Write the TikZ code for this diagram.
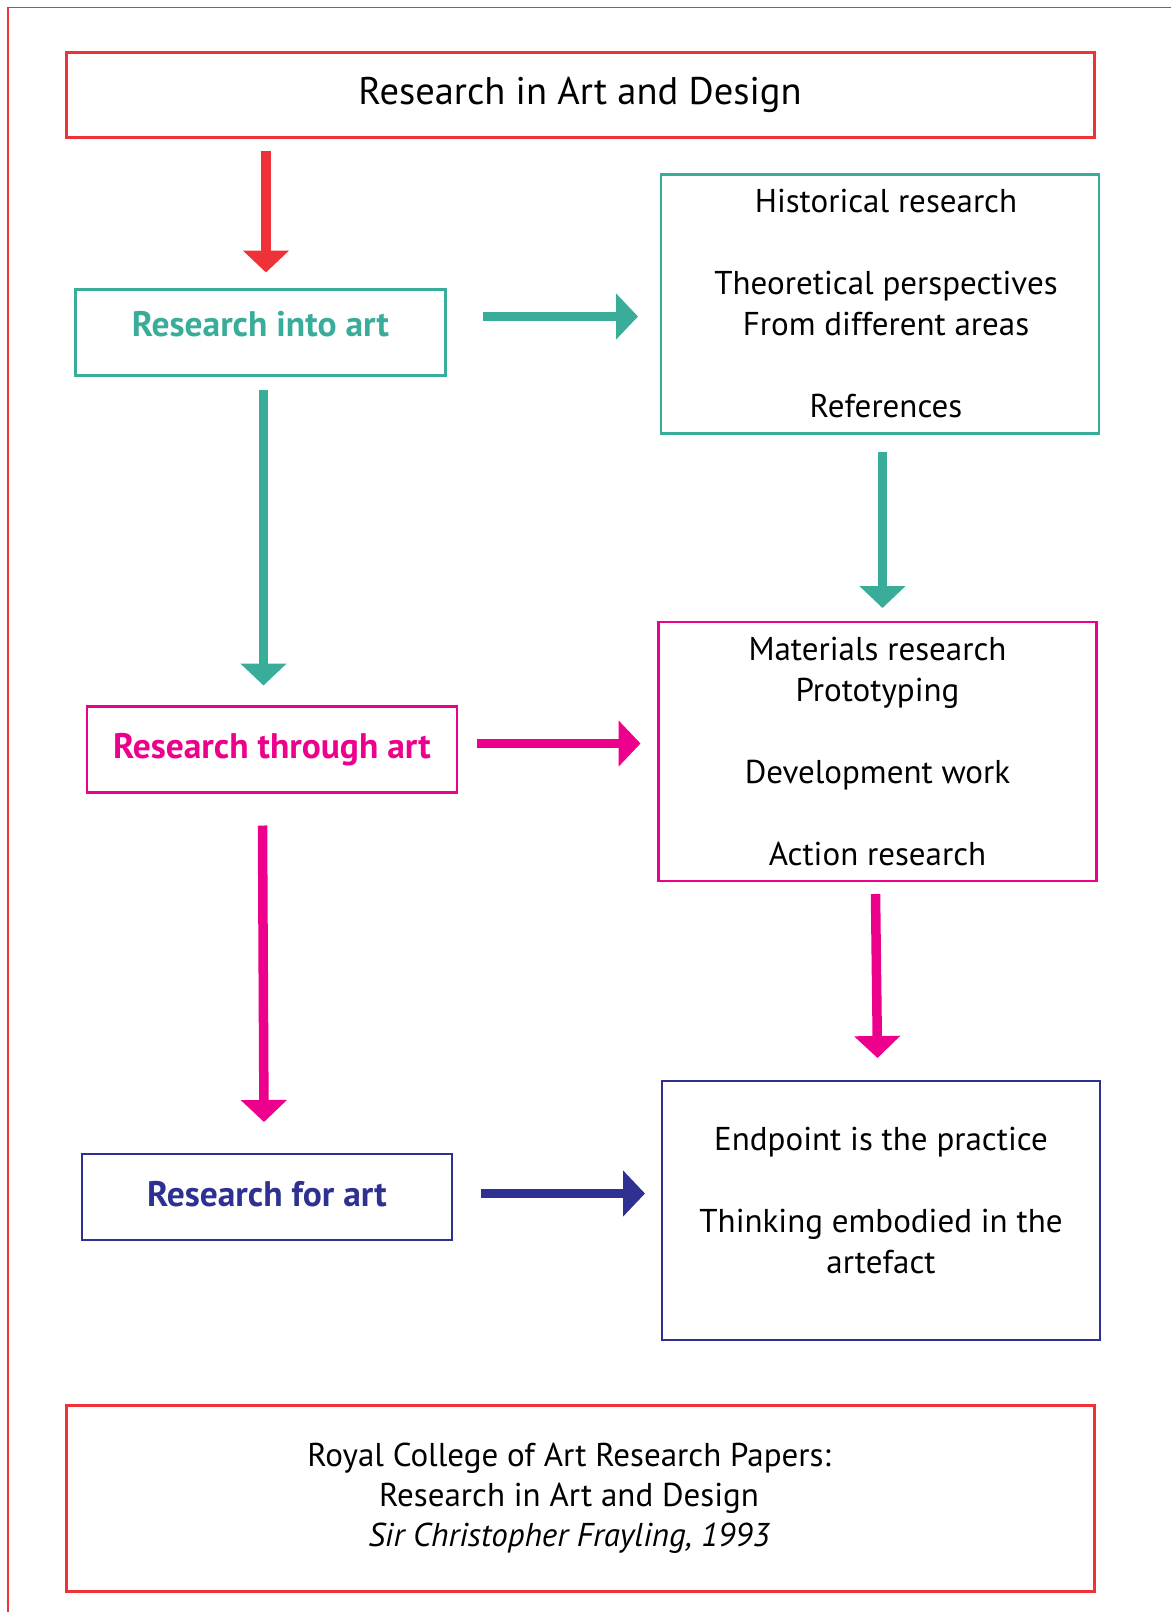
\documentclass[tikz,border=0pt]{standalone}
\usepackage{fontspec}
\setmainfont{PT Sans}
\usetikzlibrary{arrows.meta,calc}
\definecolor{redc}{RGB}{238,50,56}
\definecolor{tealc}{RGB}{58,172,154}
\definecolor{pinkc}{RGB}{236,0,140}
\definecolor{navyc}{RGB}{46,49,146}
\newcommand{\padR}{\makebox[22pt]{}}
\begin{document}
\begin{tikzpicture}[x=1pt,y=-1pt,
  box/.style={draw, line width=2.2pt, inner sep=0pt, outer sep=0pt, align=center},
  redbox/.style={box, draw=redc, line width=3pt, minimum width=1028pt},
  bigbox/.style={box, minimum width=438pt, minimum height=259pt, font=\fontsize{33}{41}\selectfont},
  smallbox/.style={box, minimum width=370pt, minimum height=86pt, text height=23pt, font=\bfseries\fontsize{35.5}{40}\selectfont},
  fatarrow/.style={line width=9.5pt, -{Triangle[width=45pt,length=22pt]}}]
\useasboundingbox (0,0) rectangle (1171,1612);
% frame
\draw[redc, line width=1pt] (8,7) -- (1171,7);
\draw[redc, line width=2pt] (8,7) -- (8,1612);
% boxes
\node[redbox, minimum height=85pt, font=\fontsize{38.5}{44}\selectfont] (title) at (580,94.5) {Research in Art and Design};
\node[smallbox, draw=tealc, text=tealc, text depth=15pt] (into) at (260.5,332.5) {Research into art};
\node[smallbox, draw=pinkc, text=pinkc, text depth=5pt] (through) at (272,749.5) {Research through art};
\node[smallbox, draw=navyc, text=navyc, text depth=5pt] (for) at (267,1197) {Research for art};
\node[bigbox, draw=tealc] (hist) at (880,304) {\hspace*{12pt}Historical research\\[41pt]\hspace*{12pt}Theoretical perspectives\\\hspace*{12pt}From different areas\\[41pt]\hspace*{12pt}References};
\node[bigbox, draw=pinkc] (mat) at (877.5,751.5) {Materials research\\Prototyping\\[41pt]Development work\\[41pt]Action research};
\node[bigbox, draw=navyc] (end) at (881,1210.5) {Endpoint is the practice\\[41pt]Thinking embodied in the\\artefact\\[-21pt]};
\node[redbox, minimum height=186pt, font=\fontsize{33}{40}\selectfont] (ref) at (580,1498) {Royal College of Art Research Papers:\padR\\Research in Art and Design\padR\\\itshape Sir Christopher Frayling, 1993\padR};
% arrows
\draw[fatarrow, redc] ($(into.north|-title.south)+(5.5,14)$) -- ($(into.north)+(5.5,-17)$);
\draw[fatarrow, tealc] ($(into.east)+(37,-16)$) -- ($(hist.west)+(-23,12.5)$);
\draw[fatarrow, tealc] ($(into.south)+(3,14)$) -- ($(through.north)+(-8.5,-21)$);
\draw[fatarrow, tealc] ($(hist.south)+(2.5,18)$) -- ($(mat.north)+(5,-14)$);
\draw[fatarrow, pinkc] ($(through.east)+(20,-6)$) -- ($(mat.west)+(-18,-8)$);
\draw[fatarrow, pinkc] ($(mat.south)+(-2,13)$) -- ($(end.north)+(-3.5,-23)$);
\draw[fatarrow, pinkc] ($(through.south)+(-9.5,33)$) -- ($(for.north)+(-3,-32)$);
\draw[fatarrow, navyc] ($(for.east)+(29,-3.5)$) -- ($(end.west)+(-17,-17)$);
\end{tikzpicture}
\end{document}
